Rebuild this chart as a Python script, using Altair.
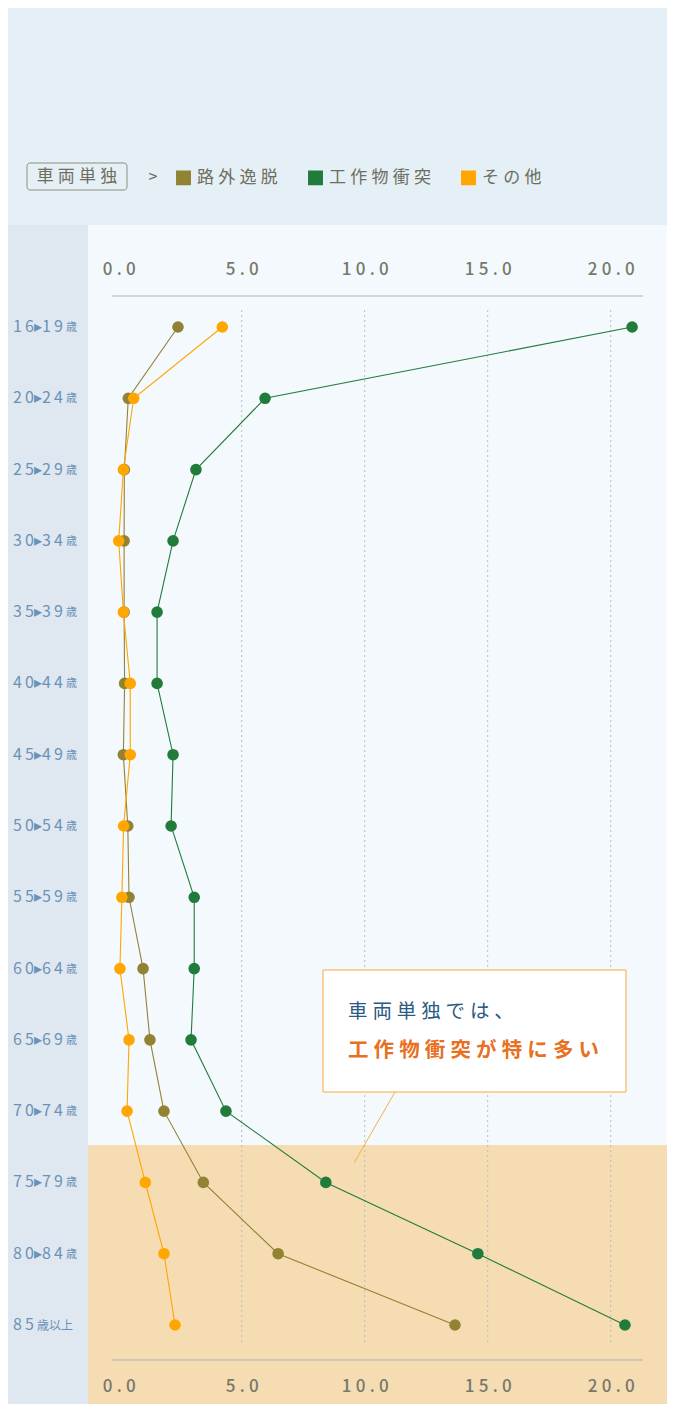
import altair as alt
import pandas as pd

# ---------------- data ----------------
ages = ["16▸19歳", "20▸24歳", "25▸29歳", "30▸34歳", "35▸39歳", "40▸44歳", "45▸49歳",
        "50▸54歳", "55▸59歳", "60▸64歳", "65▸69歳", "70▸74歳", "75▸79歳", "80▸84歳", "85歳以上"]
series = ["路外逸脱", "工作物衝突", "その他"]
road_departure = [2.41, 0.39, 0.23, 0.22, 0.22, 0.24, 0.19, 0.37, 0.42, 0.99, 1.27, 1.84, 3.44, 6.48, 13.67]
structure_collision = [20.87, 5.95, 3.14, 2.21, 1.56, 1.56, 2.21, 2.13, 3.07, 3.07, 2.94, 4.36, 8.42, 14.6, 20.58]
other = [4.21, 0.61, 0.19, 0.0, 0.19, 0.47, 0.47, 0.20, 0.13, 0.05, 0.42, 0.34, 1.08, 1.84, 2.29]
x_ticks = [0, 5, 10, 15, 20]
grid_values = [5, 10, 15, 20]
header_label = "車両単独"
note_line1 = "車両単独では、"
note_line2 = "工作物衝突が特に多い"

colors = ["#918234", "#217C3C", "#FFA600"]

FONT = "Noto Sans CJK JP, sans-serif"
SP = "\u2005"
THIN = "\u2009"


def spaced(s, sep=SP):
    return sep.join(list(s))


rows = []
for name, vals in zip(series, [road_departure, structure_collision, other]):
    for i, (a, v) in enumerate(zip(ages, vals)):
        rows.append({"age": a, "idx": i, "series": name, "value": v})
df = pd.DataFrame(rows)

lab_rows = []
for a in ages:
    if "▸" in a:
        lo, hi = a.replace("歳", "").split("▸")
        main = spaced(lo, THIN) + "▸" + spaced(hi, THIN)
        suffix = "歳"
        kind = "range"
    else:
        main = spaced(a[:2], THIN)
        suffix = a[2:]
        kind = "over"
    lab_rows.append({"age": a, "main": main, "suffix": suffix, "kind": kind})
labels_df = pd.DataFrame(lab_rows)
grid_df = pd.DataFrame({"v": grid_values})
one = pd.DataFrame({"k": [0]})

# ---------------- geometry ----------------
W, H = 659, 1396
x_scale = alt.Scale(domain=[-4.5, 22.289], nice=False, zero=False)
y_scale = alt.Scale(type="point", range=[319, 1317], padding=0)
color_scale = alt.Scale(domain=series, range=colors)

tick_expr = "replace(datum.label, regexp('(.)(?=.)', 'g'), '$1" + SP + "')"

legend = alt.Legend(title=None, orient="none", legendX=167, legendY=161,
                    direction="horizontal", symbolType="square", symbolSize=180,
                    labelFont=FONT, labelFontSize=17, labelColor="#6E6E60",
                    labelOffset=5, columnPadding=27, labelExpr=tick_expr)


def X(field, axis=None):
    return alt.X(field, type="quantitative", scale=x_scale, axis=axis)


def Y(field="age"):
    return alt.Y(field, type="ordinal", scale=y_scale, sort=ages, axis=None)


def axis_common(orient, offset):
    return alt.Axis(orient=orient, offset=offset, values=x_ticks, format=".1f",
                    labelExpr=tick_expr, domain=False, ticks=False, grid=False,
                    labelPadding=18, labelFont=FONT, labelFontSize=17, labelFontWeight=500,
                    labelColor="#77786A", labelOverlap=False, labelFlush=False,
                    labelBound=False, title=None, zindex=2)


def rect(x1, x2, y1, y2, **kw):
    return alt.Chart(one).mark_rect(**kw).encode(
        x=alt.value(x1), x2=alt.value(x2), y=alt.value(y1), y2=alt.value(y2))


bg_left = rect(0, 80, 217, H, color="#DFE8F0")
bg_plot = rect(80, W, 217, H, color="#F4F9FD")
bg_band = rect(80, W, 1137, H, color="#F5DCB2")

grid = alt.Chart(grid_df).mark_rule(color="#B9BDC0", strokeDash=[2, 3], strokeWidth=1).encode(
    x=X("v", axis_common("bottom", -44)),
    y=alt.value(302), y2=alt.value(1337))

top_line = alt.Chart(one).mark_rule(color="#B2B4A8", strokeWidth=1).encode(
    x=alt.value(104), x2=alt.value(635), y=alt.value(288))
bottom_line = alt.Chart(one).mark_rule(color="#ABAFB2", strokeWidth=1).encode(
    x=alt.value(104), x2=alt.value(635), y=alt.value(1352))

lines = alt.Chart(df).mark_line(strokeWidth=1.1).encode(
    x=X("value", axis_common("top", -288)),
    y=Y(),
    color=alt.Color("series:N", scale=color_scale, legend=legend),
    order=alt.Order("idx:Q"))

points = alt.Chart(df).mark_circle(size=135, opacity=1).encode(
    x=X("value"),
    y=Y(),
    color=alt.Color("series:N", scale=color_scale, legend=legend))

ylab_main = alt.Chart(labels_df).mark_text(
    align="left", baseline="middle", font=FONT, fontSize=16, color="#6B93B8").encode(
    x=alt.value(5), y=Y(), text="main:N")
ylab_suffix_range = alt.Chart(labels_df).transform_filter(alt.datum.kind == "range").mark_text(
    align="left", baseline="middle", font=FONT, fontSize=11, color="#6B93B8", dy=1).encode(
    x=alt.value(58), y=Y(), text="suffix:N")
ylab_suffix_over = alt.Chart(labels_df).transform_filter(alt.datum.kind == "over").mark_text(
    align="left", baseline="middle", font=FONT, fontSize=12, color="#6B93B8", dy=1).encode(
    x=alt.value(29), y=Y(), text="suffix:N")

leader = alt.Chart(one).mark_rule(color="#F7B045", strokeWidth=1).encode(
    x=alt.value(387), x2=alt.value(346), y=alt.value(1084), y2=alt.value(1155))
note_box = rect(315, 618, 962, 1084, fill="#FFFFFF", stroke="#F7A93B", strokeWidth=1)
note1 = alt.Chart(one).mark_text(align="left", baseline="middle", font=FONT, fontSize=19.5,
                                 color="#2B5A82", text=spaced(note_line1)).encode(
    x=alt.value(340), y=alt.value(1004))
note2 = alt.Chart(one).mark_text(align="left", baseline="middle", font=FONT, fontSize=20.5,
                                 fontWeight="bold", color="#E8701F", text=spaced(note_line2)).encode(
    x=alt.value(340), y=alt.value(1043))

header_box = rect(19, 119, 155, 182, fill="transparent", stroke="#8E8F80", strokeWidth=1,
                  cornerRadius=3)
header_text = alt.Chart(one).mark_text(align="center", baseline="middle", font=FONT, fontSize=17,
                                       color="#6E6E60", text=spaced(header_label)).encode(
    x=alt.value(69), y=alt.value(169))
arrow_text = alt.Chart(one).mark_text(align="center", baseline="middle", font=FONT, fontSize=16,
                                      color="#6E6E60", text=">").encode(
    x=alt.value(145), y=alt.value(169))

chart = alt.layer(
    bg_left, bg_plot, bg_band, grid, top_line, bottom_line, lines, points,
    ylab_main, ylab_suffix_range, ylab_suffix_over,
    leader, note_box, note1, note2, header_box, header_text, arrow_text,
).resolve_axis(x="independent").properties(
    width=W, height=H, padding=0,
    autosize=alt.AutoSizeParams(type="none"),
    background="#E5F0F6",
).configure_view(stroke=None).configure_legend(zindex=2)

chart.save("out.html", embed_options={"renderer": "svg", "actions": False})
